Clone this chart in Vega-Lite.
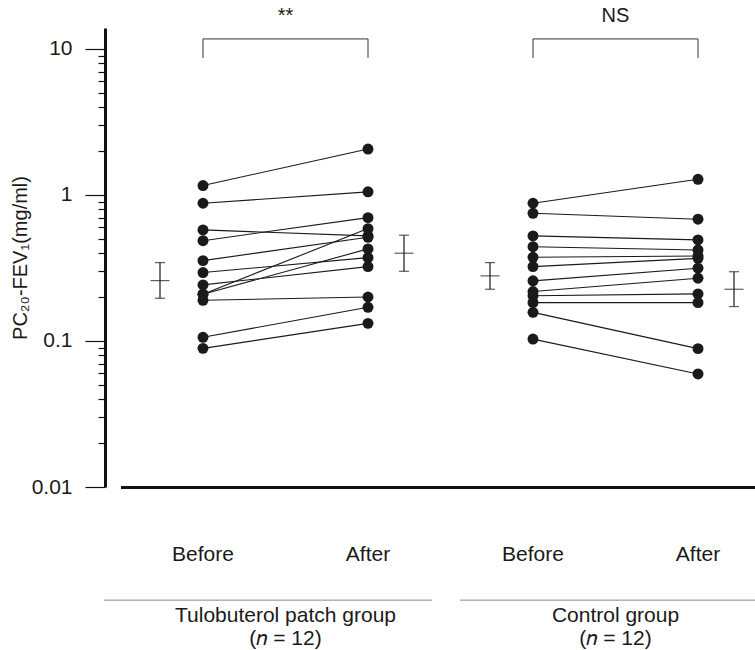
{
  "$schema": "https://vega.github.io/schema/vega-lite/v6.json",
  "autosize": "none",
  "width": 630,
  "height": 459,
  "padding": {"left": 125, "top": 28, "right": 0, "bottom": 163},
  "config": {
    "view": {"stroke": null},
    "font": "Liberation Sans",
    "axis": {"labelFont": "Liberation Sans", "titleFont": "Liberation Sans", "labelColor": "#1a1a1a", "titleColor": "#1a1a1a", "grid": false}
  },
  "datasets": {
    "pts": [
      {"id": "T1", "cond": "Tulobuterol Before", "value": 1.16},
      {"id": "T1", "cond": "Tulobuterol After", "value": 2.06},
      {"id": "T2", "cond": "Tulobuterol Before", "value": 0.877},
      {"id": "T2", "cond": "Tulobuterol After", "value": 1.05},
      {"id": "T3", "cond": "Tulobuterol Before", "value": 0.576},
      {"id": "T3", "cond": "Tulobuterol After", "value": 0.524},
      {"id": "T4", "cond": "Tulobuterol Before", "value": 0.486},
      {"id": "T4", "cond": "Tulobuterol After", "value": 0.699},
      {"id": "T5", "cond": "Tulobuterol Before", "value": 0.355},
      {"id": "T5", "cond": "Tulobuterol After", "value": 0.513},
      {"id": "T6", "cond": "Tulobuterol Before", "value": 0.294},
      {"id": "T6", "cond": "Tulobuterol After", "value": 0.372},
      {"id": "T7", "cond": "Tulobuterol Before", "value": 0.242},
      {"id": "T7", "cond": "Tulobuterol After", "value": 0.323},
      {"id": "T8", "cond": "Tulobuterol Before", "value": 0.209},
      {"id": "T8", "cond": "Tulobuterol After", "value": 0.588},
      {"id": "T9", "cond": "Tulobuterol Before", "value": 0.209},
      {"id": "T9", "cond": "Tulobuterol After", "value": 0.427},
      {"id": "T10", "cond": "Tulobuterol Before", "value": 0.19},
      {"id": "T10", "cond": "Tulobuterol After", "value": 0.2},
      {"id": "T11", "cond": "Tulobuterol Before", "value": 0.106},
      {"id": "T11", "cond": "Tulobuterol After", "value": 0.17},
      {"id": "T12", "cond": "Tulobuterol Before", "value": 0.089},
      {"id": "T12", "cond": "Tulobuterol After", "value": 0.132},
      {"id": "C1", "cond": "Control Before", "value": 0.877},
      {"id": "C1", "cond": "Control After", "value": 1.28},
      {"id": "C2", "cond": "Control Before", "value": 0.749},
      {"id": "C2", "cond": "Control After", "value": 0.682},
      {"id": "C3", "cond": "Control Before", "value": 0.524},
      {"id": "C3", "cond": "Control After", "value": 0.492},
      {"id": "C4", "cond": "Control Before", "value": 0.442},
      {"id": "C4", "cond": "Control After", "value": 0.42},
      {"id": "C5", "cond": "Control Before", "value": 0.374},
      {"id": "C5", "cond": "Control After", "value": 0.382},
      {"id": "C6", "cond": "Control Before", "value": 0.323},
      {"id": "C6", "cond": "Control After", "value": 0.368},
      {"id": "C7", "cond": "Control Before", "value": 0.258},
      {"id": "C7", "cond": "Control After", "value": 0.315},
      {"id": "C8", "cond": "Control Before", "value": 0.218},
      {"id": "C8", "cond": "Control After", "value": 0.269},
      {"id": "C9", "cond": "Control Before", "value": 0.204},
      {"id": "C9", "cond": "Control After", "value": 0.21},
      {"id": "C10", "cond": "Control Before", "value": 0.183},
      {"id": "C10", "cond": "Control After", "value": 0.183},
      {"id": "C11", "cond": "Control Before", "value": 0.157},
      {"id": "C11", "cond": "Control After", "value": 0.0886},
      {"id": "C12", "cond": "Control Before", "value": 0.103},
      {"id": "C12", "cond": "Control After", "value": 0.0594}
    ],
    "means": [
      {"cond": "Tulobuterol Before", "time": "Before", "mean": 0.259, "lo": 0.196, "hi": 0.344},
      {"cond": "Tulobuterol After", "time": "After", "mean": 0.399, "lo": 0.3, "hi": 0.53},
      {"cond": "Control Before", "time": "Before", "mean": 0.279, "lo": 0.226, "hi": 0.344},
      {"cond": "Control After", "time": "After", "mean": 0.226, "lo": 0.172, "hi": 0.298}
    ],
    "groups": [
      {"group": "Tulobuterol", "before": "Tulobuterol Before", "after": "Tulobuterol After", "sig": "**", "label": "Tulobuterol patch group\n(𝑛 = 12)"},
      {"group": "Control", "before": "Control Before", "after": "Control After", "sig": "NS", "label": "Control group\n(𝑛 = 12)"}
    ]
  },
  "layer": [
    {
      "data": {"name": "pts"},
      "mark": {"type": "line", "color": "#1a1a1a", "strokeWidth": 1.1},
      "encoding": {
        "x": {
          "field": "cond", "type": "nominal",
          "scale": {"type": "band", "domain": ["Tulobuterol Before", "Tulobuterol After", "Control Before", "Control After"], "range": [-4.5, 655.5], "paddingInner": 0, "paddingOuter": 0},
          "axis": {"title": null, "ticks": false, "domainWidth": 3, "domainColor": "#111", "labelFontSize": 21, "labelPadding": 56, "labelAngle": 0, "labelExpr": "split(datum.label, ' ')[1]"}
        },
        "y": {
          "field": "value", "type": "quantitative",
          "scale": {"type": "log", "domain": [0.01, 13.9], "nice": false},
          "axis": {
            "title": "PC₂₀-FEV₁(mg/ml)",
            "titleFontSize": 20, "titleFontWeight": "normal", "titlePadding": 1,
            "offset": 20,
            "domainWidth": 3, "domainColor": "#111",
            "tickColor": "#111", "tickWidth": 1.2,
            "values": [0.01, 0.02, 0.03, 0.04, 0.05, 0.06, 0.07, 0.08, 0.09, 0.1, 0.2, 0.3, 0.4, 0.5, 0.6, 0.7, 0.8, 0.9, 1, 2, 3, 4, 5, 6, 7, 8, 9, 10],
            "tickSize": {"condition": {"test": "indexof([0.01, 0.1, 1, 10], datum.value) >= 0", "value": 20}, "value": 7},
            "format": "~g",
            "labelExpr": "indexof([0.01, 0.1, 1, 10], datum.value) >= 0 ? datum.label : ''",
            "labelFontSize": 21, "labelPadding": 13
          }
        },
        "detail": {"field": "id"}
      }
    },
    {
      "data": {"name": "pts"},
      "mark": {"type": "point", "filled": true, "color": "#1a1a1a", "opacity": 1, "size": 120},
      "encoding": {
        "x": {"field": "cond", "type": "nominal"},
        "y": {"field": "value", "type": "quantitative"}
      }
    },
    {
      "data": {"name": "means"},
      "mark": {"type": "rule", "color": "#1a1a1a", "strokeWidth": 1.2},
      "encoding": {
        "x": {"field": "cond", "type": "nominal"},
        "xOffset": {"field": "time", "type": "nominal", "scale": {"type": "point", "domain": ["Before", "After"], "range": [39.5, 118.5], "padding": 0}},
        "y": {"field": "lo", "type": "quantitative"},
        "y2": {"field": "hi"}
      }
    },
    {
      "data": {"name": "means"},
      "mark": {"type": "tick", "color": "#1a1a1a", "size": 10, "thickness": 1.2},
      "encoding": {
        "x": {"field": "cond", "type": "nominal"},
        "xOffset": {"field": "time", "type": "nominal"},
        "y": {"field": "lo", "type": "quantitative"}
      }
    },
    {
      "data": {"name": "means"},
      "mark": {"type": "tick", "color": "#1a1a1a", "size": 10, "thickness": 1.2},
      "encoding": {
        "x": {"field": "cond", "type": "nominal"},
        "xOffset": {"field": "time", "type": "nominal"},
        "y": {"field": "hi", "type": "quantitative"}
      }
    },
    {
      "data": {"name": "means"},
      "mark": {"type": "tick", "color": "#1a1a1a", "size": 19, "thickness": 1.2},
      "encoding": {
        "x": {"field": "cond", "type": "nominal"},
        "xOffset": {"field": "time", "type": "nominal"},
        "y": {"field": "mean", "type": "quantitative"}
      }
    },
    {
      "data": {"name": "groups"},
      "mark": {"type": "rule", "color": "#333", "strokeWidth": 1},
      "encoding": {
        "x": {"field": "before", "type": "nominal", "bandPosition": 0.5},
        "x2": {"field": "after", "bandPosition": 0.5},
        "y": {"datum": 11.7, "type": "quantitative"}
      }
    },
    {
      "data": {"name": "groups"},
      "mark": {"type": "rule", "color": "#333", "strokeWidth": 1},
      "encoding": {
        "x": {"field": "before", "type": "nominal", "bandPosition": 0.5},
        "y": {"datum": 8.67, "type": "quantitative"},
        "y2": {"datum": 11.7}
      }
    },
    {
      "data": {"name": "groups"},
      "mark": {"type": "rule", "color": "#333", "strokeWidth": 1},
      "encoding": {
        "x": {"field": "after", "type": "nominal", "bandPosition": 0.5},
        "y": {"datum": 8.67, "type": "quantitative"},
        "y2": {"datum": 11.7}
      }
    },
    {
      "data": {"name": "groups"},
      "mark": {"type": "text", "color": "#1a1a1a", "fontSize": 20, "baseline": "middle", "align": "center"},
      "encoding": {
        "x": {"field": "before", "type": "nominal", "bandPosition": 1},
        "y": {"datum": 16.8, "type": "quantitative"},
        "text": {"field": "sig"}
      }
    },
    {
      "data": {"name": "groups"},
      "transform": [{"filter": "datum.group === 'Tulobuterol'"}],
      "mark": {"type": "rule", "color": "#888", "strokeWidth": 1},
      "encoding": {
        "x": {"field": "before", "type": "nominal", "bandPosition": -0.1},
        "x2": {"field": "after", "bandPosition": 0.888},
        "y": {"datum": 0.00168, "type": "quantitative"}
      }
    },
    {
      "data": {"name": "groups"},
      "transform": [{"filter": "datum.group === 'Control'"}],
      "mark": {"type": "rule", "color": "#888", "strokeWidth": 1},
      "encoding": {
        "x": {"field": "before", "type": "nominal", "bandPosition": 0.058},
        "x2": {"field": "after", "bandPosition": 0.85},
        "y": {"datum": 0.00168, "type": "quantitative"}
      }
    },
    {
      "data": {"name": "groups"},
      "mark": {"type": "text", "color": "#1a1a1a", "fontSize": 21, "baseline": "top", "align": "center", "lineBreak": "\n", "lineHeight": 23},
      "encoding": {
        "x": {"field": "before", "type": "nominal", "bandPosition": 1},
        "y": {"datum": 0.00155, "type": "quantitative"},
        "text": {"field": "label"}
      }
    }
  ]
}
